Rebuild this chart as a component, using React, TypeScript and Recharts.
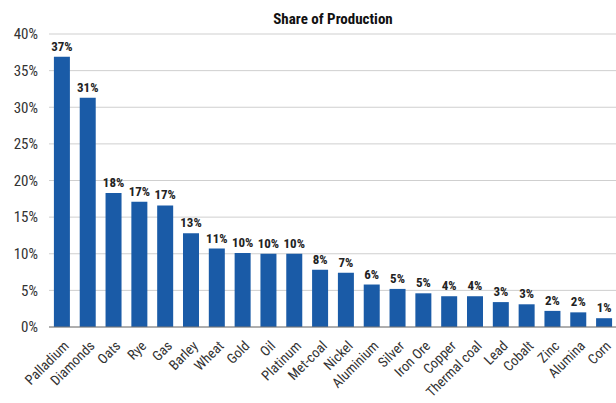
import React from "react";
import {
  BarChart,
  Bar,
  XAxis,
  YAxis,
  CartesianGrid,
  LabelList,
} from "recharts";

const commodities = [
  "Palladium", "Diamonds", "Oats", "Rye", "Gas", "Barley", "Wheat", "Gold",
  "Oil", "Platinum", "Met-coal", "Nickel", "Aluminium", "Silver", "Iron Ore",
  "Copper", "Thermal coal", "Lead", "Cobalt", "Zinc", "Alumina", "Corn",
];

const shares = [
  36.9, 31.3, 18.3, 17.1, 16.6, 12.8, 10.7, 10.1, 10.0, 10.0, 7.8, 7.4, 5.8,
  5.2, 4.6, 4.2, 4.2, 3.4, 3.1, 2.2, 2.0, 1.2,
];

const yTicks = [0, 5, 10, 15, 20, 25, 30, 35, 40];

const data = commodities.map((name, i) => ({ name, share: shares[i] }));

const FONT = "'Liberation Sans Narrow', 'Roboto Condensed', Roboto, sans-serif";

function XTick({ x, y, payload }: any) {
  return (
    <g transform={`translate(${x + 5},${y + 9})`}>
      <text
        textAnchor="end"
        transform="rotate(-45)"
        fontSize={14}
        fill="#333"
        fontFamily={FONT}
        dy={4}
      >
        {payload.value}
      </text>
    </g>
  );
}

export default function App() {
  return (
    <div
      style={{
        position: "fixed",
        left: 0,
        top: 0,
        width: 616,
        height: 403,
        background: "#fff",
        fontFamily: FONT,
      }}
    >
      <div
        style={{
          position: "absolute",
          top: 10,
          left: 50,
          right: 0,
          textAlign: "center",
          fontSize: 15,
          fontWeight: "bold",
          color: "#111",
        }}
      >
        Share of Production
      </div>
      <BarChart
        width={616}
        height={403}
        data={data}
        margin={{ top: 34, right: -1, left: 0, bottom: 0 }}
        barCategoryGap="19%"
      >
        <CartesianGrid vertical={false} stroke="#cfcfcf" />
        <XAxis
          dataKey="name"
          interval={0}
          height={76}
          tick={<XTick />}
          tickLine={false}
          axisLine={{ stroke: "#777" }}
        />
        <YAxis
          domain={[0, 40]}
          ticks={yTicks}
          width={49}
          tickFormatter={(v: number) => `${v}%`}
          tick={{ fill: "#333", fontSize: 15, fontFamily: FONT }}
          tickMargin={5}
          tickLine={false}
          axisLine={false}
        />
        <Bar dataKey="share" fill="#1A5BA7" isAnimationActive={false}>
          <LabelList
            dataKey="share"
            position="top"
            offset={6}
            formatter={(v: number) => `${Math.round(v)}%`}
            style={{ fontSize: 13, fontWeight: "bold", fill: "#222", fontFamily: FONT }}
          />
        </Bar>
      </BarChart>
    </div>
  );
}
